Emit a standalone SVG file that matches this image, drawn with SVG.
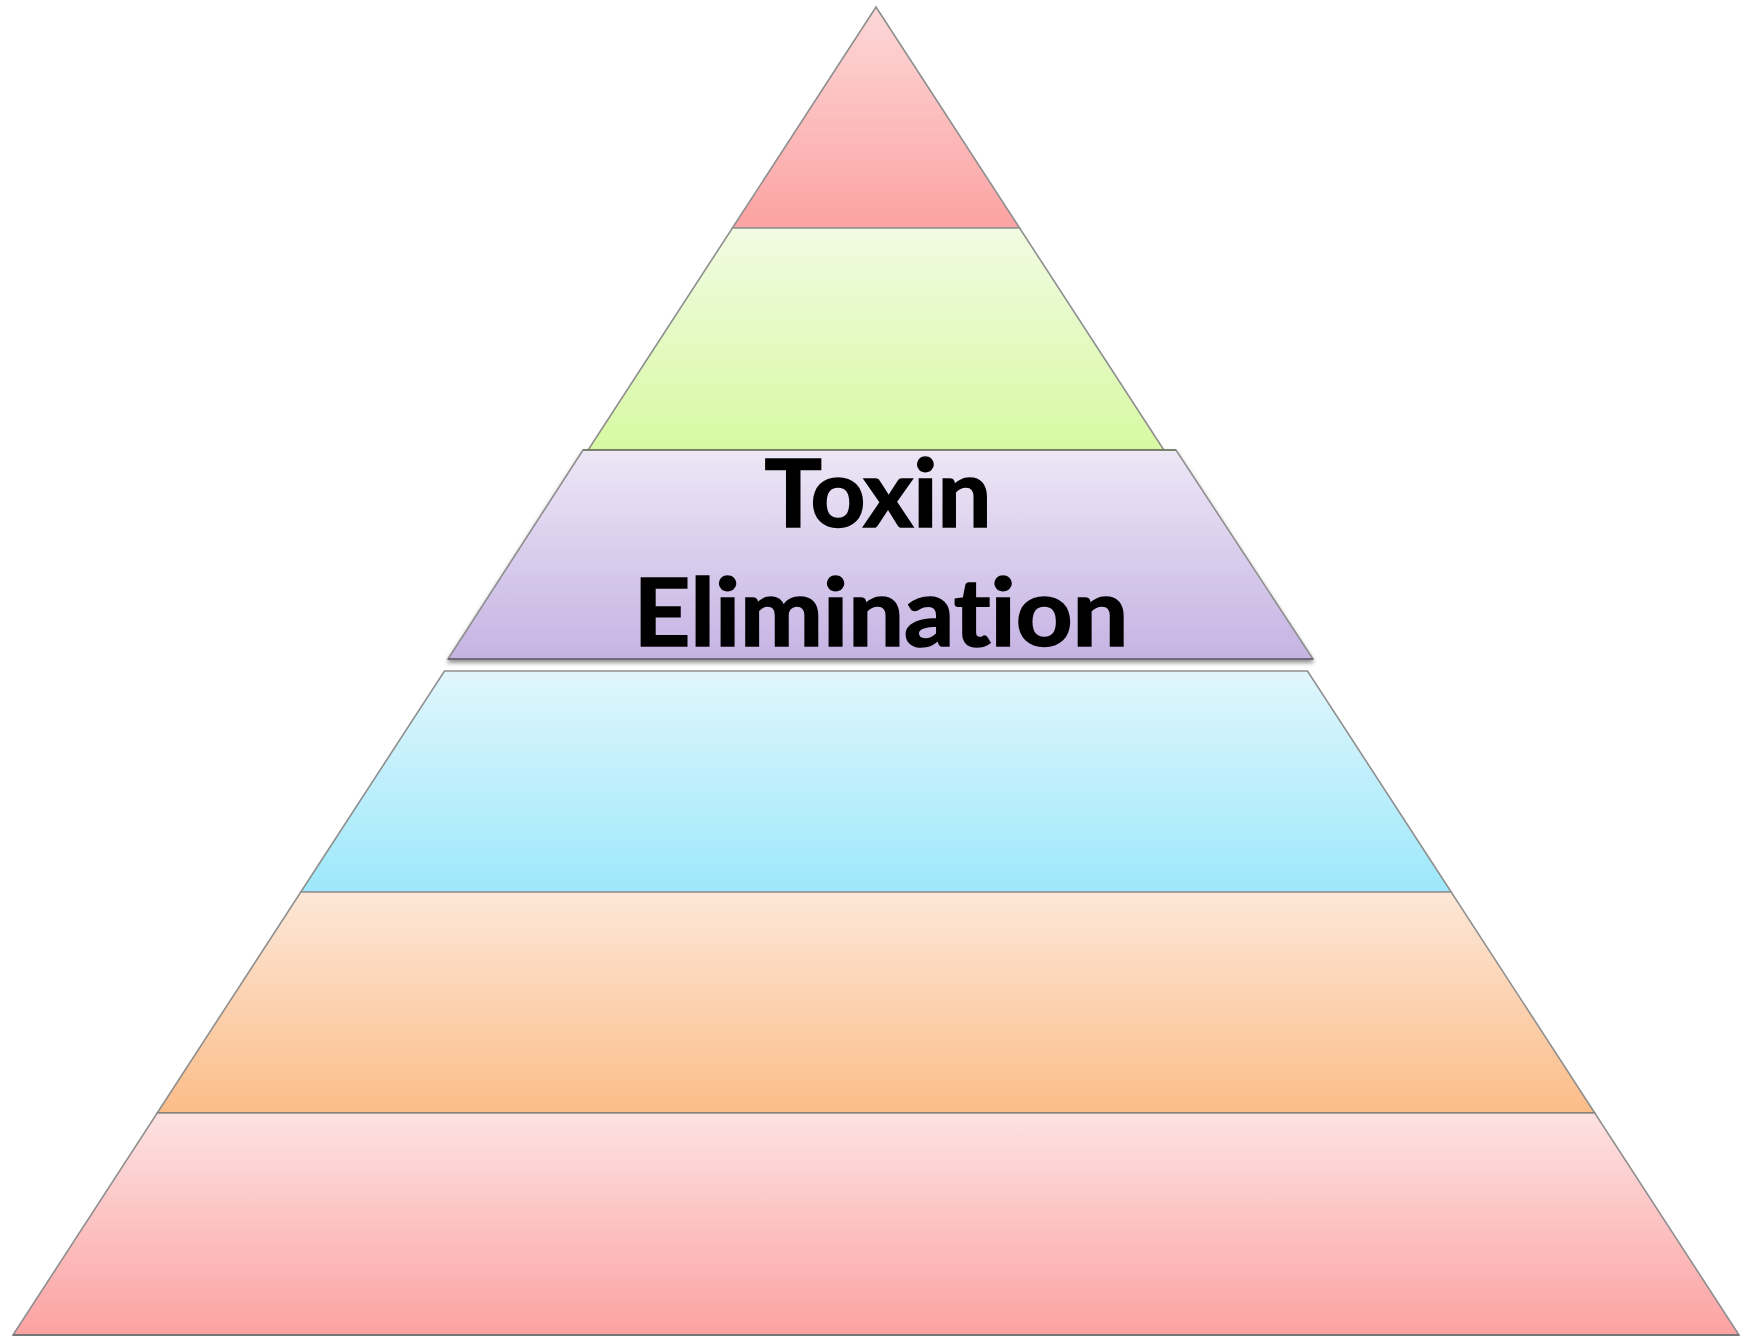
<svg xmlns="http://www.w3.org/2000/svg" width="1752" height="1337" viewBox="0 0 1752 1337">
<style>
.layer{stroke:#8f8f8f;stroke-width:1.6;stroke-linejoin:miter}
.lbl{font-family:Lato,"Open Sans","Liberation Sans",sans-serif;font-weight:bold;font-size:93px;fill:#000;stroke:#000;stroke-width:1.6;text-anchor:middle;font-variant-ligatures:none;font-feature-settings:"liga" 0,"clig" 0}
</style>
<defs>
<linearGradient id="gRed" x1="0" y1="0" x2="0" y2="1"><stop offset="0" stop-color="#fdd8d8"/><stop offset="1" stop-color="#fca2a2"/></linearGradient>
<linearGradient id="gGreen" x1="0" y1="0" x2="0" y2="1"><stop offset="0" stop-color="#f1fbe2"/><stop offset="1" stop-color="#d7f9a2"/></linearGradient>
<linearGradient id="gPurple" x1="0" y1="0" x2="0" y2="1"><stop offset="0" stop-color="#ede7f6"/><stop offset="1" stop-color="#c6b3e3"/></linearGradient>
<linearGradient id="gBlue" x1="0" y1="0" x2="0" y2="1"><stop offset="0" stop-color="#e0f6fc"/><stop offset="1" stop-color="#9de8fb"/></linearGradient>
<linearGradient id="gOrange" x1="0" y1="0" x2="0" y2="1"><stop offset="0" stop-color="#fde7d8"/><stop offset="1" stop-color="#fbbd88"/></linearGradient>
<linearGradient id="gRed2" x1="0" y1="0" x2="0" y2="1"><stop offset="0" stop-color="#fde2e2"/><stop offset="1" stop-color="#fca2a2"/></linearGradient>
<filter id="sh" x="-5%" y="-5%" width="110%" height="120%"><feDropShadow dx="0" dy="3" stdDeviation="2" flood-color="#000" flood-opacity="0.45"/></filter>
</defs>
<g id="layer1">
<polygon class="layer" points="876,7 1019.6,228 732.4,228" fill="url(#gRed)"/>
<line x1="733" y1="228" x2="1019" y2="228" stroke="#d89090" stroke-width="1.5"/>
</g>
<g id="layer2">
<polygon class="layer" points="732.4,228 1019.6,228 1163.9,450 588.1,450" fill="url(#gGreen)"/>
</g>
<g id="layer4">
<polygon class="layer" points="444.5,671 1307.5,671 1451.2,892 300.8,892" fill="url(#gBlue)"/>
<line x1="301" y1="892" x2="1451" y2="892" stroke="#8fc8d8" stroke-width="1.5"/>
</g>
<g id="layer5">
<polygon class="layer" points="300.8,892 1451.2,892 1594.8,1113 157.2,1113" fill="url(#gOrange)"/>
<line x1="158" y1="1113" x2="1594" y2="1113" stroke="#7d5c3e" stroke-width="2.2"/>
</g>
<g id="layer6">
<polygon class="layer" points="157.2,1113 1594.8,1113 1739,1335 13,1335" fill="url(#gRed2)"/>
<line x1="13" y1="1335" x2="1739" y2="1335" stroke="#777" stroke-width="2"/>
</g>
<g id="layer3">
<polygon class="layer" points="583,450 1176,450 1313,659 448,659" fill="url(#gPurple)" filter="url(#sh)"/>
<line x1="583" y1="450" x2="1176" y2="450" stroke="#6b7a5a" stroke-width="1.6"/>
<line x1="448" y1="659" x2="1313" y2="659" stroke="#6e6a78" stroke-width="2"/>
<text class="lbl" x="878" y="527" textLength="227" lengthAdjust="spacingAndGlyphs">Toxin</text>
<text class="lbl" x="881" y="646" textLength="495" lengthAdjust="spacingAndGlyphs">Elimination</text>
</g>
<g id="connectors"/>
</svg>
